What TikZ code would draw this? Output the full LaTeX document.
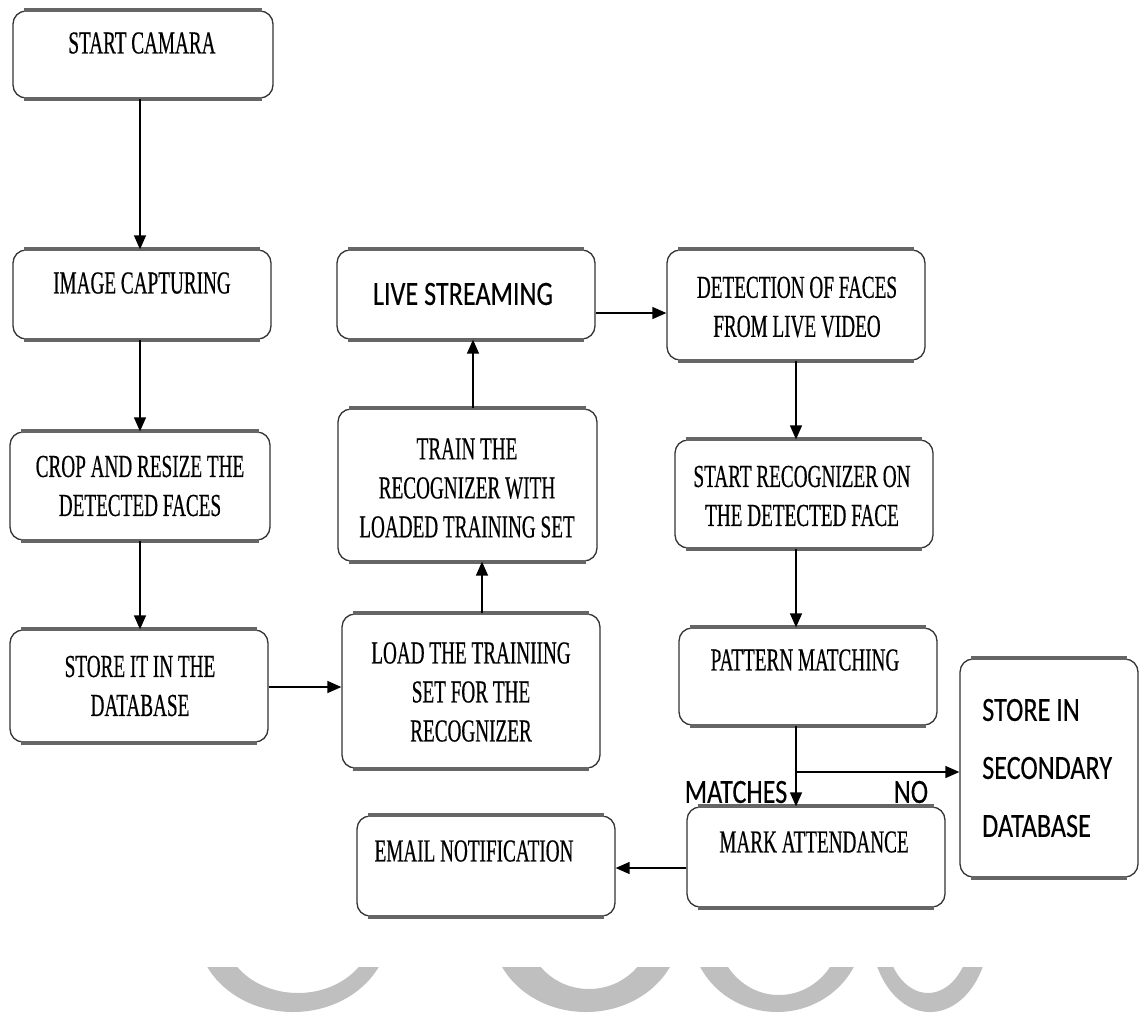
\documentclass[tikz,border=0pt]{standalone}
\usepackage{fontspec}
\newfontfamily\serifc[FakeStretch=0.6,FakeBold=0.4]{Liberation Serif}
\newfontfamily\sansc[FakeStretch=0.77,FakeBold=0.3]{Carlito}
\usetikzlibrary{arrows.meta,fit}
\begin{document}
\begin{tikzpicture}[x=1pt,y=-1pt,
  box/.style={draw=black!80, line width=1.3pt, rounded corners=13pt, inner sep=0pt, fill=white},
  band/.style={draw=black!60, line width=4pt},
  st/.style={font=\serifc\fontsize{32}{39}\selectfont, align=center, inner sep=0pt},
  ss/.style={font=\sansc\fontsize{34}{58}\selectfont, inner sep=0pt},
  conn/.style={draw=black, line width=1.4pt, -{Triangle[length=14pt,width=12pt]}},
  wm/.style={fill=black!25}]
\fill[white] (0,0) rectangle (1140,1013);
\useasboundingbox (0,0) rectangle (1140,1013);

% watermark arcs
\begin{scope}
\clip (0,967) rectangle (1140,1013);
\fill[wm, even odd rule] (293,930) ellipse [x radius=96pt, y radius=82pt] (298,930) ellipse [x radius=75pt, y radius=63pt];
\fill[wm, even odd rule] (586,930) ellipse [x radius=94pt, y radius=82pt] (589,930) ellipse [x radius=62pt, y radius=59pt];
\fill[wm, even odd rule] (777,930) ellipse [x radius=86pt, y radius=82pt] (779,930) ellipse [x radius=62pt, y radius=65pt];
\fill[wm, even odd rule] (930,930) ellipse [x radius=59pt, y radius=82pt] (928,930) ellipse [x radius=43pt, y radius=63pt];
\end{scope}

% boxes
\node[box, fit={(13,11) (273,98)}] (b1) {};
\node[box, fit={(13,250) (271,339)}] (b2) {};
\node[box, fit={(10,432) (270,540)}] (b3) {};
\node[box, fit={(10,630) (268,742)}] (b4) {};
\node[box, fit={(342,614) (600,768)}] (b5) {};
\node[box, fit={(338,409) (597,561)}] (b6) {};
\node[box, fit={(337,250) (595,339)}] (b7) {};
\node[box, fit={(667,250) (925,360)}] (b8) {};
\node[box, fit={(675,440) (933,548)}] (b9) {};
\node[box, fit={(679,628) (937,725)}] (b10) {};
\node[box, fit={(960,659) (1138,877)}] (b11) {};
\node[box, fit={(687,807) (945,907)}] (b12) {};
\node[box, fit={(357,816) (615,916)}] (b13) {};
\foreach \n in {b1,b2,b3,b4,b5,b6,b7,b8,b9,b10,b11,b12,b13} {
  \draw[band] ([xshift=12pt]\n.north west) -- ([xshift=-12pt]\n.north east);
  \draw[band] ([xshift=12pt]\n.south west) -- ([xshift=-12pt]\n.south east);
}

% texts
\node[st] (t1) at (142,43) {START CAMARA};
\node[st] (t2) at (142,283) {IMAGE CAPTURING};
\node[st] (t3) at (140,486) {CROP AND RESIZE THE\\DETECTED FACES};
\node[st] (t4) at (140,686) {STORE IT IN THE\\DATABASE};
\node[st] (t5) at (471,692) {LOAD THE TRAINIING\\SET FOR THE\\RECOGNIZER};
\node[st] (t6) at (467,488) {TRAIN THE\\RECOGNIZER WITH\\LOADED TRAINING SET};
\node[ss] (t7) at (463,294) {LIVE STREAMING};
\node[st] (t8) at (797,307) {DETECTION OF FACES\\FROM LIVE VIDEO};
\node[st] (t9) at (802,496) {START RECOGNIZER ON\\THE DETECTED FACE};
\node[st] (t10) at (805,660) {PATTERN MATCHING};
\node[ss, align=left, anchor=west] (t11) at (982,768) {STORE IN\\SECONDARY\\DATABASE};
\node[st] (t12) at (814,842) {MARK ATTENDANCE};
\node[st] (t13) at (474,851) {EMAIL NOTIFICATION};
\node[ss] (lm) at (736,792) {MATCHES};
\node[ss] (ln) at (911,792) {NO};

% connectors
\coordinate (y1) at (0,687);
\coordinate (y2) at (0,313);
\coordinate (y3) at (0,868);
\coordinate (x1) at (482,0);
\coordinate (x2) at (473,0);
\coordinate (x3) at (796,0);
\coordinate (x4) at (140,0);
\coordinate (br) at (796,772);
\draw[conn] (b1.south -| x4) -- (b2.north -| x4);
\draw[conn] (b2.south -| x4) -- (b3.north -| x4);
\draw[conn] (b3.south -| x4) -- (b4.north -| x4);
\draw[conn] (b4.east |- y1) -- (b5.west |- y1);
\draw[conn] (b5.north -| x1) -- (b6.south -| x1);
\draw[conn] (b6.north -| x2) -- (b7.south -| x2);
\draw[conn] (b7.east |- y2) -- (b8.west |- y2);
\draw[conn] (b8.south -| x3) -- (b9.north -| x3);
\draw[conn] (b9.south -| x3) -- (b10.north -| x3);
\draw[conn] (b10.south -| x3) -- (b12.north -| x3);
\draw[conn] (br) -- (br -| b11.west);
\draw[conn] (b12.west |- y3) -- (b13.east |- y3);
\end{tikzpicture}
\end{document}
